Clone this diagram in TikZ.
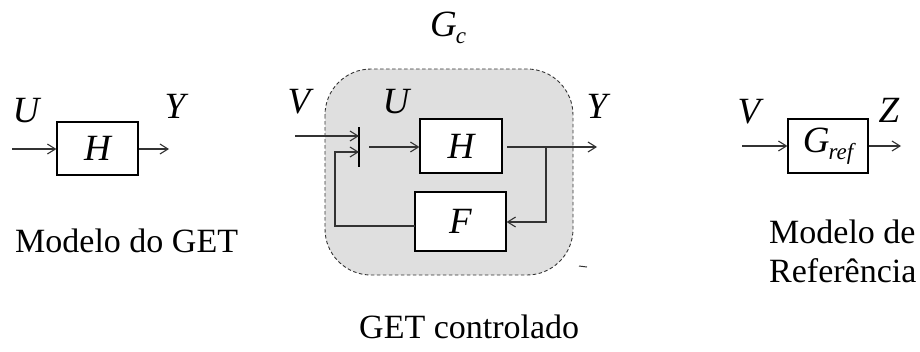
\documentclass[tikz,border=0pt]{standalone}
\usepackage{fontspec}
\setmainfont{Liberation Serif}
\usetikzlibrary{arrows.meta}
\begin{document}
\begin{tikzpicture}[x=1pt,y=-1pt,
  blk/.style={draw=black,line width=1.2pt,fill=white,minimum width=81pt,minimum height=53pt,inner sep=0pt,font=\fontsize{37}{42}\selectfont\itshape},
  wire/.style={draw=black!80,line width=1.1pt},
  arr/.style={wire,-{Straight Barb[length=8pt,width=10pt]}},
  lbl/.style={anchor=base,inner sep=0pt,font=\fontsize{37}{42}\selectfont\itshape},
  txt/.style={anchor=base west,inner sep=0pt,font=\fontsize{34}{39}\selectfont}]
\useasboundingbox (0,0) rectangle (920,351);
% region
\fill[gray!25,rounded corners=46pt] (325,69) rectangle (573,275);
\draw[black!80,line width=0.9pt,dash pattern=on 3.5pt off 2.5pt,rounded corners=46pt] (325,69) rectangle (573,275);
\draw[black!80,line width=1pt] (579,266) -- (587,267);
% left model
\node[blk] (h1) at (97.5,148.5) {H};
\coordinate (in1) at (12,149);
\coordinate (out1) at (169,149);
\draw[arr] (in1) -- (h1.west |- in1);
\draw[arr] (h1.east |- out1) -- (out1);
\node[lbl] (lu1) at (26,122) {U};
\node[lbl] (ly1) at (175,118) {Y};
\node[txt] (t1) at (15,252) {Modelo do GET};
% middle
\node[blk,minimum width=82pt,minimum height=54pt] (h2) at (461,146) {H};
\node[blk,minimum width=91pt,minimum height=59pt] (f) at (460.5,221.5) {F};
\coordinate (st) at (359,127);
\coordinate (sb) at (359,167);
\draw[line width=1.4pt] (st) -- (sb);
\coordinate (vin) at (295,136);
\draw[arr] (vin) -- (vin -| st);
\coordinate (so) at (369,147);
\draw[arr] (so) -- (h2.west |- so);
\coordinate (ho) at (507,147);
\coordinate (yout) at (597,147);
\draw[arr] (ho) -- (yout);
\coordinate (br) at (546,147);
\coordinate (bd) at (546,222);
\draw[arr] (br) -- (bd) -- (f.east |- bd);
\coordinate (fl) at (415,226);
\coordinate (fc) at (335,226);
\coordinate (fu) at (335,152);
\draw[arr] (fl) -- (fc) -- (fu) -- (fu -| st);
\node[lbl] (lv2) at (299,113) {V};
\node[lbl] (lu2) at (396,113) {U};
\node[lbl] (ly2) at (597,118) {Y};
\node[lbl] (gc) at (448,36) {G\kern-1pt\raisebox{-7pt}{\fontsize{23}{25}\selectfont c}};
\node[txt] (t2) at (359,338) {GET controlado};
% right
\node[blk,minimum width=80pt,minimum height=54pt] (g) at (828,146) {G\kern-1pt\raisebox{-7pt}{\fontsize{23}{25}\selectfont ref}};
\coordinate (vin3) at (742,146);
\coordinate (zout) at (901,146);
\draw[arr] (vin3) -- (g.west);
\draw[arr] (g.east) -- (zout);
\node[lbl] (lv3) at (749,123) {V};
\node[lbl] (lz3) at (889,122) {Z};
\node[txt] (t3) at (769,243) {Modelo de};
\node[txt] (t4) at (769,282) {Referência};
\end{tikzpicture}
\end{document}
